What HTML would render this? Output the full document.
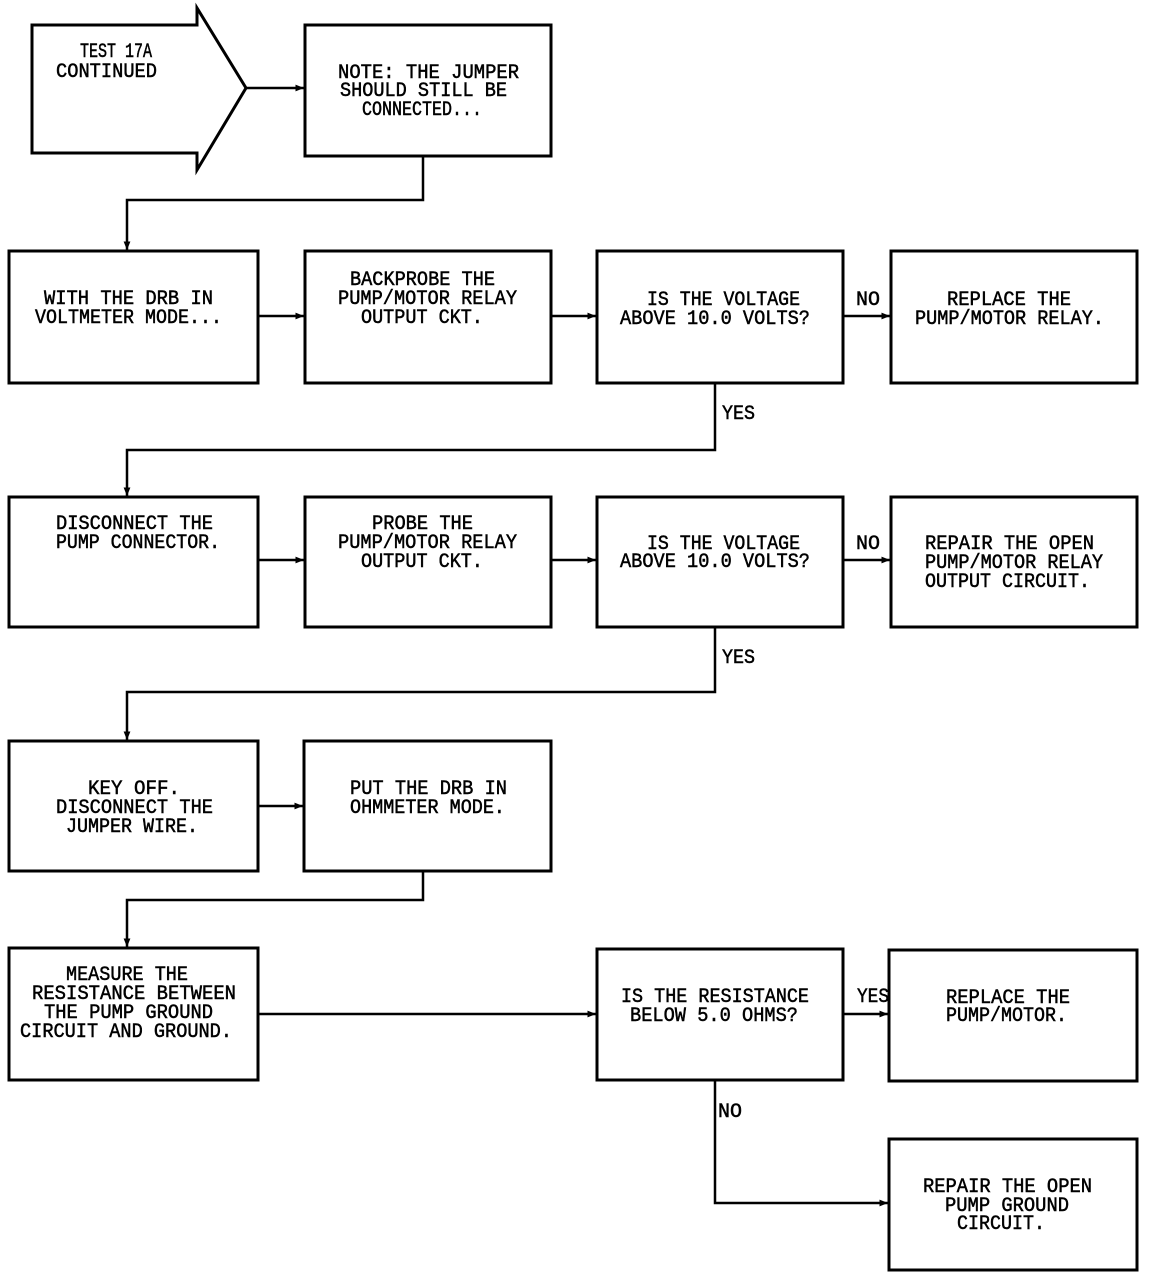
<!DOCTYPE html>
<html><head><meta charset="utf-8"><style>
html,body{margin:0;padding:0;background:#fff}
svg{display:block}
text{font-family:"Liberation Mono",monospace;font-size:20px;fill:#000;stroke:#000;stroke-width:0.5}
</style></head><body>
<svg width="1152" height="1278" viewBox="0 0 1152 1278" xmlns="http://www.w3.org/2000/svg">
<defs><marker id="a" viewBox="0 0 10 10" refX="10" refY="5" markerWidth="3.5" markerHeight="3.5" orient="auto"><path d="M0,1 L10,5 L0,9z" fill="#000"/></marker></defs>
<g fill="none" stroke="#000" stroke-width="3">
<polygon points="32,25 197,25 197,8 246,88 197,170 197,153 32,153"/>
<rect x="305" y="25" width="246" height="131"/>
<rect x="9" y="251" width="249" height="132"/>
<rect x="305" y="251" width="246" height="132"/>
<rect x="597" y="251" width="246" height="132"/>
<rect x="891" y="251" width="246" height="132"/>
<rect x="9" y="497" width="249" height="130"/>
<rect x="305" y="497" width="246" height="130"/>
<rect x="597" y="497" width="246" height="130"/>
<rect x="891" y="497" width="246" height="130"/>
<rect x="9" y="741" width="249" height="130"/>
<rect x="304" y="741" width="247" height="130"/>
<rect x="9" y="948" width="249" height="132"/>
<rect x="597" y="949" width="246" height="131"/>
<rect x="889" y="950" width="248" height="131"/>
<rect x="889" y="1139" width="248" height="131"/>
</g>
<g fill="none" stroke="#000" stroke-width="2.5" marker-end="url(#a)">
<path d="M246,88 H304"/>
<path d="M423,156 V200 H127 V250"/>
<path d="M258,316 H304"/>
<path d="M551,316 H596"/>
<path d="M843,316 H890"/>
<path d="M715,383 V450 H127 V496"/>
<path d="M258,560 H304"/>
<path d="M551,560 H596"/>
<path d="M843,560 H890"/>
<path d="M715,627 V692 H127 V740"/>
<path d="M258,806 H303"/>
<path d="M423,871 V900 H127 V947"/>
<path d="M258,1014 H596"/>
<path d="M843,1014 H888"/>
<path d="M715,1080 V1203 H888"/>
</g>
<g lengthAdjust="spacingAndGlyphs">
<text x="80" y="57" textLength="72" lengthAdjust="spacingAndGlyphs">TEST 17A</text>
<text x="56" y="77" textLength="101" lengthAdjust="spacingAndGlyphs">CONTINUED</text>
<text x="338" y="78" textLength="181" lengthAdjust="spacingAndGlyphs">NOTE: THE JUMPER</text>
<text x="340" y="96" textLength="167" lengthAdjust="spacingAndGlyphs">SHOULD STILL BE</text>
<text x="362" y="115" textLength="120" lengthAdjust="spacingAndGlyphs">CONNECTED...</text>
<text x="44" y="304" textLength="169" lengthAdjust="spacingAndGlyphs">WITH THE DRB IN</text>
<text x="35" y="323" textLength="187" lengthAdjust="spacingAndGlyphs">VOLTMETER MODE...</text>
<text x="350" y="285" textLength="145" lengthAdjust="spacingAndGlyphs">BACKPROBE THE</text>
<text x="338" y="304" textLength="179" lengthAdjust="spacingAndGlyphs">PUMP/MOTOR RELAY</text>
<text x="361" y="323" textLength="122" lengthAdjust="spacingAndGlyphs">OUTPUT CKT.</text>
<text x="647" y="305" textLength="153" lengthAdjust="spacingAndGlyphs">IS THE VOLTAGE</text>
<text x="620" y="324" textLength="190" lengthAdjust="spacingAndGlyphs">ABOVE 10.0 VOLTS?</text>
<text x="947" y="305" textLength="124" lengthAdjust="spacingAndGlyphs">REPLACE THE</text>
<text x="915" y="324" textLength="189" lengthAdjust="spacingAndGlyphs">PUMP/MOTOR RELAY.</text>
<text x="856" y="305" textLength="24" lengthAdjust="spacingAndGlyphs">NO</text>
<text x="722" y="419" textLength="33" lengthAdjust="spacingAndGlyphs">YES</text>
<text x="56" y="529" textLength="157" lengthAdjust="spacingAndGlyphs">DISCONNECT THE</text>
<text x="56" y="548" textLength="164" lengthAdjust="spacingAndGlyphs">PUMP CONNECTOR.</text>
<text x="372" y="529" textLength="101" lengthAdjust="spacingAndGlyphs">PROBE THE</text>
<text x="338" y="548" textLength="179" lengthAdjust="spacingAndGlyphs">PUMP/MOTOR RELAY</text>
<text x="361" y="567" textLength="122" lengthAdjust="spacingAndGlyphs">OUTPUT CKT.</text>
<text x="647" y="549" textLength="153" lengthAdjust="spacingAndGlyphs">IS THE VOLTAGE</text>
<text x="620" y="567" textLength="190" lengthAdjust="spacingAndGlyphs">ABOVE 10.0 VOLTS?</text>
<text x="925" y="549" textLength="169" lengthAdjust="spacingAndGlyphs">REPAIR THE OPEN</text>
<text x="925" y="568" textLength="178" lengthAdjust="spacingAndGlyphs">PUMP/MOTOR RELAY</text>
<text x="925" y="587" textLength="165" lengthAdjust="spacingAndGlyphs">OUTPUT CIRCUIT.</text>
<text x="856" y="549" textLength="24" lengthAdjust="spacingAndGlyphs">NO</text>
<text x="722" y="663" textLength="33" lengthAdjust="spacingAndGlyphs">YES</text>
<text x="88" y="794" textLength="92" lengthAdjust="spacingAndGlyphs">KEY OFF.</text>
<text x="56" y="813" textLength="157" lengthAdjust="spacingAndGlyphs">DISCONNECT THE</text>
<text x="66" y="832" textLength="132" lengthAdjust="spacingAndGlyphs">JUMPER WIRE.</text>
<text x="350" y="794" textLength="157" lengthAdjust="spacingAndGlyphs">PUT THE DRB IN</text>
<text x="350" y="813" textLength="155" lengthAdjust="spacingAndGlyphs">OHMMETER MODE.</text>
<text x="66" y="980" textLength="122" lengthAdjust="spacingAndGlyphs">MEASURE THE</text>
<text x="32" y="999" textLength="204" lengthAdjust="spacingAndGlyphs">RESISTANCE BETWEEN</text>
<text x="44" y="1018" textLength="169" lengthAdjust="spacingAndGlyphs">THE PUMP GROUND</text>
<text x="20" y="1037" textLength="212" lengthAdjust="spacingAndGlyphs">CIRCUIT AND GROUND.</text>
<text x="621" y="1002" textLength="188" lengthAdjust="spacingAndGlyphs">IS THE RESISTANCE</text>
<text x="630" y="1021" textLength="168" lengthAdjust="spacingAndGlyphs">BELOW 5.0 OHMS?</text>
<text x="857" y="1002" textLength="32" lengthAdjust="spacingAndGlyphs">YES</text>
<text x="946" y="1003" textLength="124" lengthAdjust="spacingAndGlyphs">REPLACE THE</text>
<text x="946" y="1021" textLength="121" lengthAdjust="spacingAndGlyphs">PUMP/MOTOR.</text>
<text x="718" y="1117" textLength="24" lengthAdjust="spacingAndGlyphs">NO</text>
<text x="923" y="1192" textLength="169" lengthAdjust="spacingAndGlyphs">REPAIR THE OPEN</text>
<text x="945" y="1211" textLength="124" lengthAdjust="spacingAndGlyphs">PUMP GROUND</text>
<text x="957" y="1229" textLength="88" lengthAdjust="spacingAndGlyphs">CIRCUIT.</text>
</g>
</svg>
</body></html>
